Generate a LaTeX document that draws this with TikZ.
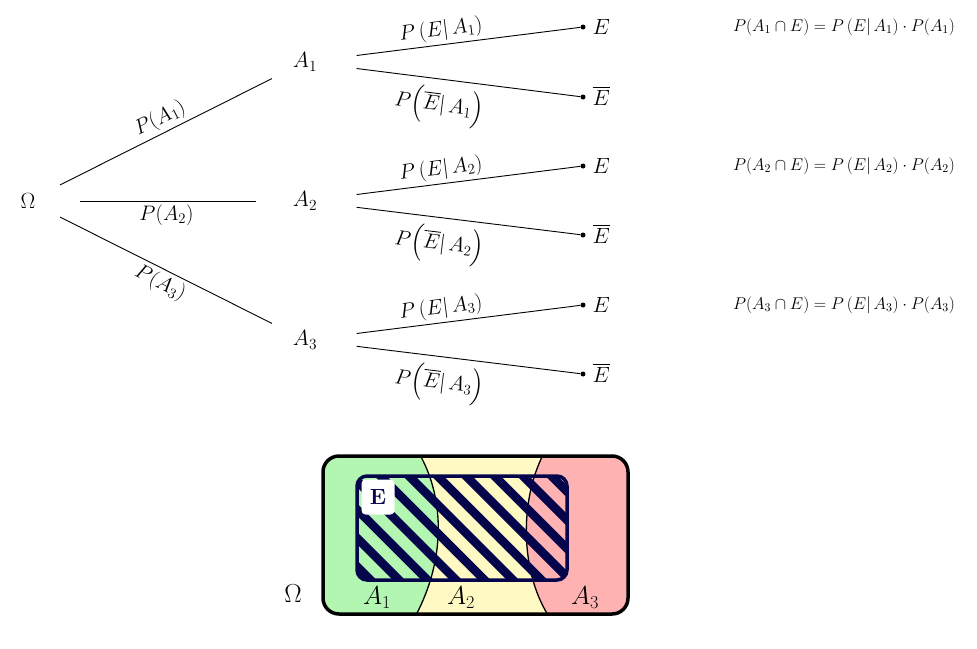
\RequirePackage{fix-cm}
\documentclass[tikz,border=0pt]{standalone}
\usepackage{amsmath}
\usepackage{exscale}
\definecolor{navy}{RGB}{5,5,75}
\definecolor{vgreen}{RGB}{178,246,178}
\definecolor{vyellow}{RGB}{255,249,196}
\definecolor{vred}{RGB}{255,178,178}
\begin{document}
\begin{tikzpicture}[x=1pt,y=-1pt,
  lbl/.style={font=\fontsize{22}{26}\selectfont},
  elbl/.style={font=\fontsize{21}{25}\selectfont},
  frm/.style={font=\fontsize{17}{20}\selectfont},
  vlbl/.style={font=\fontsize{26}{30}\selectfont},
  br/.style={line width=0.9pt},
  leaf/.style={circle,fill,inner sep=0pt,minimum size=5pt}]
\useasboundingbox (0,0) rectangle (977,648);
% tree nodes
\node[lbl] (O) at (28,201) {$\Omega$};
\node[lbl] (A1) at (305,62) {$A_1$};
\node[lbl] (A2) at (305,201) {$A_2$};
\node[lbl] (A3) at (305,340) {$A_3$};
% leaves
\node[leaf] (e1) at (583,27) {};
\node[leaf] (f1) at (583,97) {};
\node[leaf] (e2) at (583,166) {};
\node[leaf] (f2) at (583,235) {};
\node[leaf] (e3) at (583,305) {};
\node[leaf] (f3) at (583,374) {};
\foreach \i in {1,2,3}{
  \node[lbl,anchor=west] (le\i) at ([xshift=6pt]e\i.center) {$E$};
  \node[lbl,anchor=west] (lf\i) at ([xshift=6pt,yshift=1pt]f\i.center) {$\overline{E}$};
}
% first level
\draw[br,shorten <=36pt,shorten >=37pt] (O.center) -- node[elbl,above,sloped]{$P(A_1)$} (A1.center);
\draw[br,shorten <=52pt,shorten >=49pt] (O.center) -- node[elbl,below]{$P(A_2)$} (A2.center);
\draw[br,shorten <=36pt,shorten >=37pt] (O.center) -- node[elbl,below,sloped]{$P(A_3)$} (A3.center);
% second level
\foreach \i in {1,2,3}{
  \draw[br,shorten <=52pt] (A\i.center) -- node[elbl,above,sloped]{$P\left(E|\,A_\i\right)$} (e\i);
  \draw[br,shorten <=52pt] (A\i.center) -- node[elbl,below=4pt,sloped]{$P\Bigl(\overline{E}|\,A_\i\Bigr)$} (f\i);
}
% formulas
\node[frm] (r1) at (844,27) {$P(A_1\cap E)=P\left(E|\,A_1\right)\cdot P(A_1)$};
\node[frm] (r2) at (844,166) {$P(A_2\cap E)=P\left(E|\,A_2\right)\cdot P(A_2)$};
\node[frm] (r3) at (844,305) {$P(A_3\cap E)=P\left(E|\,A_3\right)\cdot P(A_3)$};
% Venn diagram
\begin{scope}
  \clip[rounded corners=16pt] (323,456) rectangle (628,614);
  \fill[vgreen] (300,440) rectangle (650,630);
  \fill[vyellow] (420,455) .. controls (445,500) and (445,560) .. (416,615)
     -- (548,615) .. controls (520,570) and (520,500) .. (543,455) -- cycle;
  \fill[vred] (543,455) .. controls (520,500) and (520,570) .. (548,615)
     -- (650,630) -- (650,440) -- cycle;
  \draw[line width=1.3pt] (420,455) .. controls (445,500) and (445,560) .. (416,615);
  \draw[line width=1.3pt] (543,455) .. controls (520,500) and (520,570) .. (548,615);
  \begin{scope}
    \clip[rounded corners=10pt] (357,476) rectangle (567,580);
    \foreach \k in {-9,...,5}{
      \draw[navy,line width=8.5pt] ({-10+28.5*\k+440},440) -- ({-10+28.5*\k+620},620);
    }
  \end{scope}
\end{scope}
\draw[navy,line width=3.5pt,rounded corners=10pt] (357,476) rectangle (567,580);
\draw[line width=3.5pt,rounded corners=16pt] (323,456) rectangle (628,614);
\node[fill=white,rounded corners=4pt,minimum width=33pt,minimum height=35pt,inner sep=0pt,
      text=navy,font=\bfseries\fontsize{22}{24}\selectfont] (Eb) at (378,497) {E};
\node[font=\fontsize{26}{30}\selectfont] (Om) at (293,594) {$\Omega$};
\node[vlbl] (V1) at (377,598) {$A_1$};
\node[vlbl] (V2) at (461,598) {$A_2$};
\node[vlbl] (V3) at (585,598) {$A_3$};
\end{tikzpicture}
\end{document}
